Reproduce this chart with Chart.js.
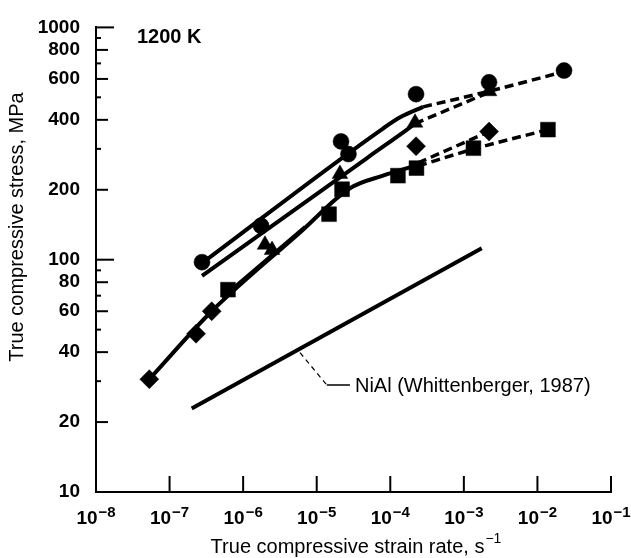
<!DOCTYPE html>
<html>
<head>
<meta charset="utf-8">
<script src="https://cdn.jsdelivr.net/npm/chart.js@4.4.1/dist/chart.umd.min.js"></script>
<style>
html,body{margin:0;padding:0;background:#fff;}
#wrap{width:631px;height:558px;position:relative;}
</style>
</head>
<body>
<div id="wrap"><canvas id="c" width="631" height="558"></canvas></div>
<script>
// ---------- data (strain rate s^-1, stress MPa) ----------
const circleX   = [2.76e-7, 1.75e-6, 2.14e-5, 2.70e-5, 2.24e-4, 2.20e-3, 2.30e-2];
const circleY   = [97.6, 140, 323, 285, 516, 580, 652];
const triangleX = [1.98e-6, 2.47e-6, 2.07e-5, 2.17e-4, 2.20e-3];
const triangleY = [116, 110, 234, 389, 531];
const squareX   = [6.22e-7, 1.47e-5, 2.21e-5, 1.27e-4, 2.27e-4, 1.35e-3, 1.39e-2];
const squareY   = [74.3, 157, 201, 230, 248, 302, 363];
const diamondX  = [5.30e-8, 2.29e-7, 3.74e-7, 2.24e-4, 2.20e-3];
const diamondY  = [30.6, 48.0, 60.0, 308, 356];

// fitted curves
const fitCircleX = [2.76e-7, 7.96e-5, 1.36e-4, 2.79e-4];
const fitCircleY = [96.6, 367, 410, 455];
const dashCircleX = [2.79e-4, 2.20e-3, 2.30e-2];
const dashCircleY = [455, 531, 645];
const fitTriX = [2.76e-7, 4.83e-5, 1.69e-4, 2.17e-4];
const fitTriY = [85.1, 274, 363, 385];
const dashTriX = [2.17e-4, 2.20e-3];
const dashTriY = [385, 526];
const fitLowX = [5.30e-8, 3.74e-7, 5.93e-6, 2.83e-5, 7.96e-5, 2.38e-4];
const fitLowY = [30.6, 60.0, 131, 203, 230, 256];
const fitSqX = [5.16e-7, 6.93e-6];
const fitSqY = [68.7, 138.6];
const dashDiaX = [2.38e-4, 2.20e-3];
const dashDiaY = [261, 356];
const dashSqX = [2.38e-4, 1.33e-3, 1.39e-2];
const dashSqY = [253, 299, 363];
const nialX = [2.00e-7, 1.75e-3];
const nialY = [22.9, 112];
const leaderDashX = [5.93e-6, 1.37e-5];
const leaderDashY = [39.8, 28.9];
const leaderSolidX = [1.37e-5, 2.83e-5];
const leaderSolidY = [28.9, 28.9];

// ticks
const yLabelValues = [10, 20, 40, 60, 80, 100, 200, 400, 600, 800, 1000];
const yDecadeTicks = [100, 1000];
const yLabelTicks = [20, 40, 60, 80, 200, 400, 600, 800];
const yMinorTicks = [30, 50, 70, 90, 300, 500, 700, 900];
const xTickExps = [-8, -7, -6, -5, -4, -3, -2, -1];

const FONT = "'Liberation Sans', Arial, Helvetica, sans-serif";

function pts(xs, ys){ return xs.map((x,i)=>({x:x, y:ys[i]})); }
function marker(xs, ys, style, r){
  return {data:pts(xs,ys), showLine:false, pointStyle:style, pointRadius:r, pointHoverRadius:r,
    pointBackgroundColor:'#000', pointBorderColor:'#000', pointBorderWidth:0.5, order:0};
}
function curve(xs, ys, dash, w){
  return {data:pts(xs,ys), showLine:true, pointRadius:0, pointHoverRadius:0, borderColor:'#000',
    borderWidth:w, borderDash:dash, cubicInterpolationMode:'monotone', fill:false, order:1,
    borderCapStyle:'butt'};
}

const deco = {
  id:'deco',
  afterDraw(chart){
    const ctx = chart.ctx, xs = chart.scales.x, ys = chart.scales.y, a = chart.chartArea;
    ctx.save();
    ctx.strokeStyle = '#000';
    ctx.fillStyle = '#000';
    ctx.lineWidth = 2;
    const ln = (x1,y1,x2,y2)=>{ctx.beginPath();ctx.moveTo(x1,y1);ctx.lineTo(x2,y2);ctx.stroke();};
    yDecadeTicks.forEach(v=>{const p=ys.getPixelForValue(v); ln(a.left,p,a.left+18,p);});
    yLabelTicks.forEach(v=>{const p=ys.getPixelForValue(v); ln(a.left,p,a.left+12,p);});
    yMinorTicks.forEach(v=>{const p=ys.getPixelForValue(v); ln(a.left,p,a.left+5,p);});
    xTickExps.forEach(e=>{ if(e===-8) return; const p=xs.getPixelForValue(Math.pow(10,e)); ln(p,a.bottom,p,a.bottom-16);});

    // x tick labels with superscripts
    xTickExps.forEach(e=>{
      const p = xs.getPixelForValue(Math.pow(10,e));
      const base = '10', ex = '\u2212' + Math.abs(e);
      ctx.font = 'bold 19px ' + FONT;
      const wb = ctx.measureText(base).width;
      ctx.font = 'bold 15px ' + FONT;
      const we = ctx.measureText(ex).width;
      const x0 = p - (wb + we + 1)/2;
      ctx.textAlign = 'left'; ctx.textBaseline = 'alphabetic';
      ctx.font = 'bold 19px ' + FONT;
      ctx.fillText(base, x0, a.bottom + 32);
      ctx.font = 'bold 15px ' + FONT;
      ctx.fillText(ex, x0 + wb + 1, a.bottom + 25);
    });

    // x title
    const t1 = 'True compressive strain rate, s', t2 = '\u22121';
    ctx.font = '20px ' + FONT;
    const w1 = ctx.measureText(t1).width;
    ctx.font = '14px ' + FONT;
    const w2 = ctx.measureText(t2).width;
    const tx = 356 - (w1 + w2 + 1)/2;
    ctx.font = '20px ' + FONT;
    ctx.fillText(t1, tx, 553);
    ctx.font = '14px ' + FONT;
    ctx.fillText(t2, tx + w1 + 1, 543);

    // y title
    ctx.save();
    ctx.translate(17, 227);
    ctx.rotate(-Math.PI/2);
    ctx.textAlign = 'center'; ctx.textBaseline = 'middle';
    ctx.font = '20px ' + FONT;
    ctx.fillText('True compressive stress, MPa', 0, 0);
    ctx.restore();

    // temperature label
    ctx.textAlign = 'left'; ctx.textBaseline = 'alphabetic';
    ctx.font = 'bold 20px ' + FONT;
    ctx.fillText('1200 K', a.left + 41, a.top + 16);

    // NiAl annotation
    const lx = xs.getPixelForValue(leaderSolidX[leaderSolidX.length-1]);
    const ly = ys.getPixelForValue(leaderSolidY[leaderSolidY.length-1]);
    ctx.font = '20px ' + FONT;
    ctx.fillText('NiAl (Whittenberger, 1987)', lx + 5, ly + 7);
    ctx.restore();
  }
};

new Chart(document.getElementById('c'), {
  type:'scatter',
  data:{datasets:[
    curve(fitCircleX, fitCircleY, [], 4),
    curve(dashCircleX, dashCircleY, [9,5], 3.5),
    curve(fitTriX, fitTriY, [], 4),
    curve(dashTriX, dashTriY, [9,5], 3.5),
    curve(fitLowX, fitLowY, [], 4),
    curve(fitSqX, fitSqY, [], 3.5),
    curve(dashDiaX, dashDiaY, [9,5], 3.5),
    curve(dashSqX, dashSqY, [9,5], 3.5),
    curve(nialX, nialY, [], 4),
    curve(leaderDashX, leaderDashY, [5,4], 1.2),
    curve(leaderSolidX, leaderSolidY, [], 1.5),
    marker(circleX, circleY, 'circle', 8),
    marker(triangleX, triangleY, 'triangle', 9),
    marker(squareX, squareY, 'rect', 10.5),
    marker(diamondX, diamondY, 'rectRot', 9.5)
  ]},
  options:{
    responsive:false, animation:false, devicePixelRatio:1, events:[],
    layout:{padding:{top:19, right:20, left:0, bottom:0}},
    plugins:{legend:{display:false}, tooltip:{enabled:false}},
    scales:{
      x:{type:'logarithmic', min:1e-8, max:1e-1,
         ticks:{display:false}, grid:{display:false, drawTicks:false},
         border:{display:true, color:'#000', width:2},
         afterFit(s){ s.height = 66; }},
      y:{type:'logarithmic', min:10, max:1000,
         ticks:{display:true, autoSkip:false, padding:16, color:'#000',
                font:{family:FONT, size:19, weight:'bold'},
                callback:(v)=> yLabelValues.some(l=>Math.abs(l-v)/l<1e-6) ? String(Math.round(v)) : ''},
         grid:{display:false, drawTicks:false},
         border:{display:true, color:'#000', width:2},
         afterFit(s){ s.width = 96; }}
    }
  },
  plugins:[deco]
});
</script>
</body>
</html>
